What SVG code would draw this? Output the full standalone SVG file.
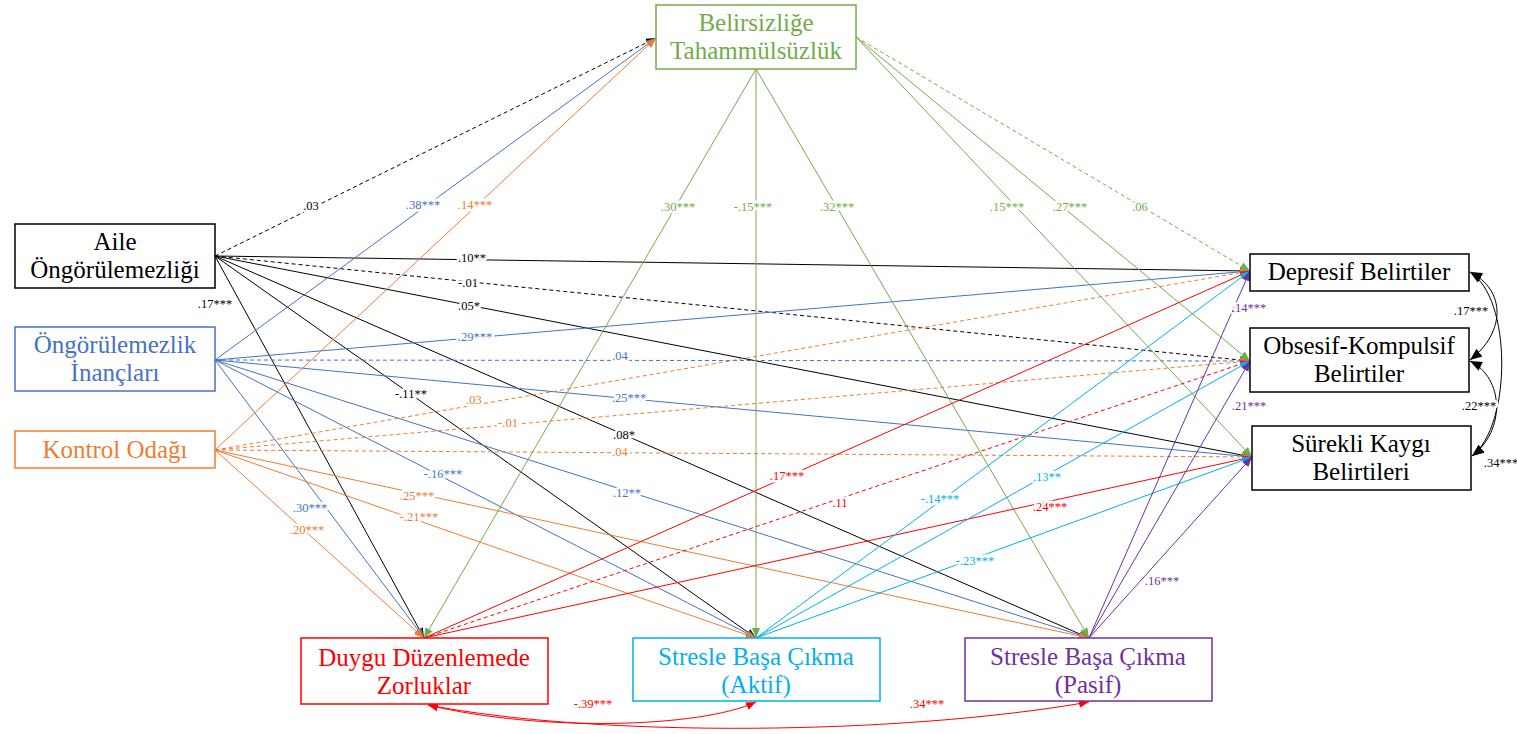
<svg xmlns="http://www.w3.org/2000/svg" width="1517" height="734" viewBox="0 0 1517 734">
<style>
.box{fill:#fff;stroke-width:1.5}
.nt{font-family:"Liberation Serif","Times New Roman",serif;font-size:25px;text-anchor:middle}
.e{fill:none;stroke-width:1}
.d{stroke-dasharray:4 3}
.lbl{font-family:"Liberation Serif","Times New Roman",serif;font-size:12.5px;text-anchor:middle;stroke:#fff;stroke-width:5;stroke-linejoin:round;paint-order:stroke}
.k{stroke:#000}.b{stroke:#4472C4}.o{stroke:#ED7D31}.g{stroke:#70AD47}.r{stroke:#FF0000}.c{stroke:#00B0F0}.p{stroke:#7030A0}
.tk{fill:#000}.tb{fill:#4472C4}.to{fill:#ED7D31}.tg{fill:#70AD47}.tr{fill:#FF0000}.tc{fill:#00B0F0}.tp{fill:#7030A0}
</style>
<defs>
<marker id="mk" viewBox="0 0 10 10" refX="10" refY="5" markerWidth="10" markerHeight="10" markerUnits="userSpaceOnUse" orient="auto-start-reverse"><path d="M0,1 L10,5 L0,9 z" fill="#000"/></marker>
<marker id="mk2" viewBox="0 0 10 10" refX="10" refY="5" markerWidth="12" markerHeight="12" markerUnits="userSpaceOnUse" orient="auto-start-reverse"><path d="M0,1 L10,5 L0,9 z" fill="#000"/></marker>
<marker id="mb" viewBox="0 0 10 10" refX="10" refY="5" markerWidth="10" markerHeight="10" markerUnits="userSpaceOnUse" orient="auto-start-reverse"><path d="M0,1 L10,5 L0,9 z" fill="#4472C4"/></marker>
<marker id="mo" viewBox="0 0 10 10" refX="10" refY="5" markerWidth="10" markerHeight="10" markerUnits="userSpaceOnUse" orient="auto-start-reverse"><path d="M0,1 L10,5 L0,9 z" fill="#ED7D31"/></marker>
<marker id="mg" viewBox="0 0 10 10" refX="10" refY="5" markerWidth="10" markerHeight="10" markerUnits="userSpaceOnUse" orient="auto-start-reverse"><path d="M0,1 L10,5 L0,9 z" fill="#70AD47"/></marker>
<marker id="mr" viewBox="0 0 10 10" refX="10" refY="5" markerWidth="10" markerHeight="10" markerUnits="userSpaceOnUse" orient="auto-start-reverse"><path d="M0,1 L10,5 L0,9 z" fill="#FF0000"/></marker>
<marker id="mc" viewBox="0 0 10 10" refX="10" refY="5" markerWidth="10" markerHeight="10" markerUnits="userSpaceOnUse" orient="auto-start-reverse"><path d="M0,1 L10,5 L0,9 z" fill="#00B0F0"/></marker>
<marker id="mp" viewBox="0 0 10 10" refX="10" refY="5" markerWidth="10" markerHeight="10" markerUnits="userSpaceOnUse" orient="auto-start-reverse"><path d="M0,1 L10,5 L0,9 z" fill="#7030A0"/></marker>
</defs>
<rect width="1517" height="734" fill="#fff"/>

<g id="connectors">
<!-- Aile -->
<path class="e k d" d="M215,256 L656,38" marker-end="url(#mk)"/>
<path class="e k" d="M215,256 L1250,271" marker-end="url(#mk)"/>
<path class="e k d" d="M215,256 L1250,361" marker-end="url(#mk)"/>
<path class="e k" d="M215,256 L1252,457" marker-end="url(#mk)"/>
<path class="e k" d="M215,256 L424,638" marker-end="url(#mk)"/>
<path class="e k" d="M215,256 L756,638" marker-end="url(#mk)"/>
<path class="e k" d="M215,256 L1089,638" marker-end="url(#mk)"/>
<!-- Ongorulemezlik Inanclari -->
<path class="e b" d="M215,360 L656,38" marker-end="url(#mb)"/>
<path class="e b" d="M215,360 L1250,271" marker-end="url(#mb)"/>
<path class="e b d" d="M215,360 L1250,361" marker-end="url(#mb)"/>
<path class="e b" d="M215,360 L1252,457" marker-end="url(#mb)"/>
<path class="e b" d="M215,360 L424,638" marker-end="url(#mb)"/>
<path class="e b" d="M215,360 L756,638" marker-end="url(#mb)"/>
<path class="e b" d="M215,360 L1089,638" marker-end="url(#mb)"/>
<!-- Kontrol Odagi -->
<path class="e o" d="M215,450 L656,38" marker-end="url(#mo)"/>
<path class="e o d" d="M215,450 L1250,271" marker-end="url(#mo)"/>
<path class="e o d" d="M215,450 L1250,361" marker-end="url(#mo)"/>
<path class="e o d" d="M215,450 L1252,457" marker-end="url(#mo)"/>
<path class="e o" d="M215,450 L424,638" marker-end="url(#mo)"/>
<path class="e o" d="M215,450 L756,638" marker-end="url(#mo)"/>
<path class="e o" d="M215,450 L1089,638" marker-end="url(#mo)"/>
<!-- Belirsizlige Tahammulsuzluk -->
<path class="e g" d="M756,69 L424,638" marker-end="url(#mg)"/>
<path class="e g" d="M756,69 L756,638" marker-end="url(#mg)"/>
<path class="e g" d="M756,69 L1089,638" marker-end="url(#mg)"/>
<path class="e g d" d="M856,37 L1250,271" marker-end="url(#mg)"/>
<path class="e g" d="M856,37 L1250,361" marker-end="url(#mg)"/>
<path class="e g" d="M856,37 L1252,457" marker-end="url(#mg)"/>
<!-- DDZ -->
<path class="e r" d="M424,638 L1250,271" marker-end="url(#mr)"/>
<path class="e r d" d="M424,638 L1250,361" marker-end="url(#mr)"/>
<path class="e r" d="M424,638 L1252,457" marker-end="url(#mr)"/>
<!-- SBC Aktif -->
<path class="e c" d="M756,638 L1250,271" marker-end="url(#mc)"/>
<path class="e c" d="M756,638 L1250,361" marker-end="url(#mc)"/>
<path class="e c" d="M756,638 L1252,457" marker-end="url(#mc)"/>
<!-- SBC Pasif -->
<path class="e p" d="M1089,638 L1250,271" marker-end="url(#mp)"/>
<path class="e p" d="M1089,638 L1250,361" marker-end="url(#mp)"/>
<path class="e p" d="M1089,638 L1252,457" marker-end="url(#mp)"/>
<!-- covariances -->
<path class="e k" d="M1470,272 C1506,290 1506,332 1470,360" marker-start="url(#mk2)" marker-end="url(#mk2)"/>
<path class="e k" d="M1470,272 C1512,298 1512,425 1472,456" marker-start="url(#mk2)" marker-end="url(#mk2)"/>
<path class="e k" d="M1470,361 C1504,378 1506,430 1472,456" marker-start="url(#mk2)" marker-end="url(#mk2)"/>
<path class="e r" d="M428,705 C540,732 700,728 756,702" marker-start="url(#mr)" marker-end="url(#mr)"/>
<path class="e r" d="M428,705 C600,738 900,735 1089,702" marker-start="url(#mr)" marker-end="url(#mr)"/>

<!-- labels -->
<text class="lbl tk" x="311" y="210">.03</text>
<text class="lbl tk" x="472" y="262">.10**</text>
<text class="lbl tk" x="468" y="287">-.01</text>
<text class="lbl tk" x="469" y="310">.05*</text>
<text class="lbl tk" x="215" y="308">.17***</text>
<text class="lbl tk" x="411" y="398">-.11**</text>
<text class="lbl tk" x="624" y="439">.08*</text>

<text class="lbl tb" x="423" y="209">.38***</text>
<text class="lbl tb" x="475" y="341">.29***</text>
<text class="lbl tb" x="620" y="360">.04</text>
<text class="lbl tb" x="629" y="402">.25***</text>
<text class="lbl tb" x="310" y="512">.30***</text>
<text class="lbl tb" x="443" y="478">-.16***</text>
<text class="lbl tb" x="627" y="497">.12**</text>

<text class="lbl to" x="475" y="209">.14***</text>
<text class="lbl to" x="474" y="404">.03</text>
<text class="lbl to" x="508" y="427">-.01</text>
<text class="lbl to" x="620" y="456">.04</text>
<text class="lbl to" x="307" y="534">.20***</text>
<text class="lbl to" x="419" y="521">-.21***</text>
<text class="lbl to" x="417" y="500">.25***</text>

<text class="lbl tg" x="678" y="211">.30***</text>
<text class="lbl tg" x="753" y="211">-.15***</text>
<text class="lbl tg" x="837" y="211">.32***</text>
<text class="lbl tg" x="1140" y="211">.06</text>
<text class="lbl tg" x="1070" y="211">.27***</text>
<text class="lbl tg" x="1007" y="211">.15***</text>

<text class="lbl tr" x="787" y="480">.17***</text>
<text class="lbl tr" x="840" y="507">.11</text>
<text class="lbl tr" x="1050" y="511">.24***</text>

<text class="lbl tc" x="940" y="503">-.14***</text>
<text class="lbl tc" x="1047" y="481">.13**</text>
<text class="lbl tc" x="975" y="565">-.23***</text>

<text class="lbl tp" x="1249" y="312">.14***</text>
<text class="lbl tp" x="1249" y="410">.21***</text>
<text class="lbl tp" x="1162" y="585">.16***</text>

<text class="lbl tk" x="1471" y="315">.17***</text>
<text class="lbl tk" x="1479" y="410">.22***</text>
<text class="lbl tk" x="1501" y="467">.34***</text>
<text class="lbl tr" x="593" y="708">-.39***</text>
<text class="lbl tr" x="927" y="708">.34***</text>
</g>

<g id="belirsizlige">
<rect class="box" x="656" y="5" width="200" height="64" stroke="#70AD47"/>
<text class="nt tg" x="756" y="31">Belirsizliğe</text>
<text class="nt tg" x="756" y="59">Tahammülsüzlük</text>
</g>
<g id="aile">
<rect class="box" x="15" y="224" width="200" height="64" stroke="#000"/>
<text class="nt tk" x="115" y="250">Aile</text>
<text class="nt tk" x="115" y="278">Öngörülemezliği</text>
</g>
<g id="inanclar">
<rect class="box" x="15" y="327" width="200" height="64" stroke="#4472C4"/>
<text class="nt tb" x="115" y="353">Öngörülemezlik</text>
<text class="nt tb" x="115" y="381">İnançları</text>
</g>
<g id="kontrol">
<rect class="box" x="15" y="431" width="200" height="37" stroke="#ED7D31"/>
<text class="nt to" x="115" y="458">Kontrol Odağı</text>
</g>
<g id="depresif">
<rect class="box" x="1250" y="254" width="219" height="37" stroke="#000"/>
<text class="nt tk" x="1359" y="280">Depresif Belirtiler</text>
</g>
<g id="okb">
<rect class="box" x="1250" y="328" width="219" height="64" stroke="#000"/>
<text class="nt tk" x="1359" y="354">Obsesif-Kompulsif</text>
<text class="nt tk" x="1359" y="382">Belirtiler</text>
</g>
<g id="kaygi">
<rect class="box" x="1252" y="426" width="219" height="64" stroke="#000"/>
<text class="nt tk" x="1361" y="452">Sürekli Kaygı</text>
<text class="nt tk" x="1361" y="480">Belirtileri</text>
</g>
<g id="ddz">
<rect class="box" x="301" y="638" width="247" height="66" stroke="#FF0000"/>
<text class="nt tr" x="424" y="666">Duygu Düzenlemede</text>
<text class="nt tr" x="424" y="694">Zorluklar</text>
</g>
<g id="aktif">
<rect class="box" x="633" y="638" width="247" height="63" stroke="#00B0F0"/>
<text class="nt tc" x="756" y="665">Stresle Başa Çıkma</text>
<text class="nt tc" x="756" y="693">(Aktif)</text>
</g>
<g id="pasif">
<rect class="box" x="965" y="638" width="247" height="63" stroke="#7030A0"/>
<text class="nt tp" x="1088" y="665">Stresle Başa Çıkma</text>
<text class="nt tp" x="1088" y="693">(Pasif)</text>
</g>
</svg>
